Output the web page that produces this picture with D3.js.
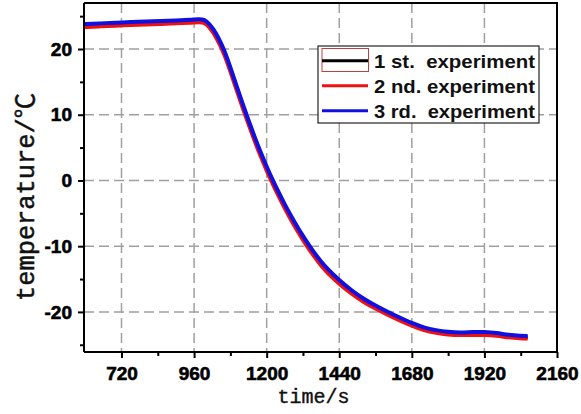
<!DOCTYPE html>
<html>
<head>
<meta charset="utf-8">
<script src="https://cdn.jsdelivr.net/npm/d3@7"></script>
<style>
  body { margin: 0; background: #fff; }
  svg { display: block; }
</style>
</head>
<body>
<div id="drawarea"></div>
<script>
// time points (s)
const times = [596, 650, 700, 750, 800, 850, 900, 950, 975, 995, 1010, 1025, 1040, 1060, 1080, 1100, 1120, 1140, 1160, 1180,
    1200, 1220, 1240, 1260, 1280, 1300, 1320, 1340, 1360, 1380, 1400, 1440, 1480, 1520, 1560, 1600, 1640, 1680, 1720, 1760,
    1800, 1840, 1880, 1920, 1960, 2000, 2040, 2063];

// temperature (degC) for each experiment
const exp1 = [23.6, 23.7, 23.8, 23.9, 24.0, 24.05, 24.15, 24.25, 24.35, 24.3, 23.65, 22.7, 21.5, 19.55, 16.9, 14.15, 11.45, 8.85, 6.35, 4.0,
    1.8, -0.25, -2.15, -3.95, -5.65, -7.25, -8.75, -10.15, -11.45, -12.65, -13.7, -15.45, -16.95, -18.25, -19.3, -20.25, -21.1, -21.9, -22.6, -23.0,
    -23.25, -23.35, -23.3, -23.3, -23.4, -23.7, -23.85, -23.85];
const exp2 = [23.35, 23.45, 23.55, 23.65, 23.75, 23.8, 23.9, 24.0, 24.1, 24.05, 23.35, 22.4, 21.15, 19.25, 16.6, 13.85, 11.15, 8.55, 6.05, 3.7,
    1.5, -0.55, -2.45, -4.25, -5.95, -7.55, -9.05, -10.45, -11.75, -12.95, -14.0, -15.75, -17.2, -18.5, -19.5, -20.45, -21.3, -22.1, -22.8, -23.2,
    -23.45, -23.55, -23.5, -23.5, -23.6, -23.9, -24.05, -24.05];
const exp3 = [23.8, 23.9, 24.0, 24.1, 24.2, 24.25, 24.35, 24.45, 24.55, 24.5, 23.85, 22.95, 21.75, 19.85, 17.2, 14.45, 11.75, 9.15, 6.65, 4.3,
    2.1, 0.05, -1.85, -3.65, -5.35, -6.95, -8.45, -9.85, -11.15, -12.35, -13.4, -15.2, -16.7, -18.0, -19.05, -20.0, -20.85, -21.7, -22.4, -22.8,
    -23.05, -23.15, -23.05, -23.05, -23.2, -23.5, -23.65, -23.65];

const seriesNames = ["1 st.  experiment", "2 nd. experiment", "3 rd.  experiment"];
const seriesColors = ["#000000", "#ee1111", "#1010e0"];

const xTicks = [720, 960, 1200, 1440, 1680, 1920, 2160];
const xMinor = [840, 1080, 1320, 1560, 1800, 2040];
const yTicks = [-20, -10, 0, 10, 20];
const yMinor = [-25, -15, -5, 5, 15, 25];

const width = 581, height = 414;
const pLeft = 84, pRight = 557, pTop = 3, pBottom = 352;

let svg = d3.select("div#drawarea").append("svg")
    .attr("width", width)
    .attr("height", height);

let x = d3.scaleLinear().domain([596, 2160]).range([pLeft, pRight]);
let y = d3.scaleLinear().domain([-26.1, 27]).range([pBottom, pTop]);

//dashed grid at the major ticks
svg.append("g").selectAll("line").data(xTicks.filter(d => d < 2160)).join("line")
    .attr("x1", d => x(d)).attr("x2", d => x(d))
    .attr("y1", pTop).attr("y2", pBottom)
    .attr("stroke", "#a0a0a0").attr("stroke-width", 1.5)
    .attr("stroke-dasharray", "10,5");
svg.append("g").selectAll("line").data(yTicks).join("line")
    .attr("x1", pLeft).attr("x2", pRight)
    .attr("y1", d => y(d)).attr("y2", d => y(d))
    .attr("stroke", "#a0a0a0").attr("stroke-width", 1.5)
    .attr("stroke-dasharray", "10,5");

//the three curves, blue on top
let line = d3.line().curve(d3.curveBasis);
[exp1, exp2, exp3].forEach((vals, k) => {
    svg.append("path")
        .attr("d", line(times.map((t, j) => [x(t), y(vals[j])])))
        .attr("fill", "none")
        .attr("stroke", seriesColors[k])
        .attr("stroke-width", 4)
        .attr("stroke-linejoin", "round");
});

//frame on top and right
svg.append("path")
    .attr("d", `M${pLeft},${pTop}H${pRight}V${pBottom}`)
    .attr("fill", "none").attr("stroke", "#000").attr("stroke-width", 2);

//bold tick labels like the original
function styleTicks(g) {
    g.attr("font-family", "'Liberation Sans', Arial, sans-serif")
        .attr("font-size", 19)
        .attr("font-weight", "bold");
    g.selectAll("line").attr("stroke-width", 2);
    g.selectAll("text")
        .attr("fill", "#000")
        .attr("stroke", "#000")
        .attr("stroke-width", 0.6);
}

//axes
let xAxis = svg.append("g")
    .attr("transform", `translate(0,${pBottom})`)
    .call(d3.axisBottom(x).tickValues(xTicks).tickSize(6).tickPadding(8.5).tickFormat(d => String(d)))
    .call(styleTicks);
svg.append("g")
    .attr("transform", `translate(0,${pBottom})`)
    .call(d3.axisBottom(x).tickValues(xMinor).tickSize(4).tickFormat(""))
    .call(g => g.select(".domain").remove())
    .call(styleTicks);
let yAxis = svg.append("g")
    .attr("transform", `translate(${pLeft},0)`)
    .call(d3.axisLeft(y).tickValues(yTicks).tickSize(6).tickPadding(6).tickFormat(d => String(d)))
    .call(styleTicks);
svg.append("g")
    .attr("transform", `translate(${pLeft},0)`)
    .call(d3.axisLeft(y).tickValues(yMinor).tickSize(4).tickFormat(""))
    .call(g => g.select(".domain").remove())
    .call(styleTicks);

xAxis.select(".domain").attr("d", `M${pLeft},0H${pRight}`).attr("stroke-width", 2);
yAxis.select(".domain").attr("d", `M0,${pTop}V${pBottom}`).attr("stroke-width", 2);

//axis titles
svg.append("text")
    .attr("x", 313.5).attr("y", 403)
    .attr("text-anchor", "middle")
    .attr("font-family", "'Liberation Mono', monospace")
    .attr("font-size", 20)
    .attr("fill", "#111")
    .attr("stroke", "#111").attr("stroke-width", 0.4)
    .text("time/s");
svg.append("text")
    .attr("transform", "translate(34,197) rotate(-90)")
    .attr("text-anchor", "middle")
    .attr("font-family", "'Liberation Mono', 'Noto Sans CJK SC', monospace")
    .attr("font-size", 25)
    .attr("textLength", 208)
    .attr("lengthAdjust", "spacingAndGlyphs")
    .attr("fill", "#111")
    .attr("stroke", "#111").attr("stroke-width", 0.5)
    .text("temperature/℃");

//legend
let legend = svg.append("g");
legend.append("rect")
    .attr("x", 318).attr("y", 46)
    .attr("width", 221).attr("height", 77)
    .attr("fill", "#fff").attr("stroke", "#222").attr("stroke-width", 1.2);
legend.append("rect")
    .attr("x", 322).attr("y", 48.5)
    .attr("width", 46.5).attr("height", 23)
    .attr("fill", "none").attr("stroke", "#c04040").attr("stroke-width", 1);
seriesNames.forEach((name, k) => {
    let ly = 60.7 + k * 25;
    legend.append("line")
        .attr("x1", 322).attr("x2", 368)
        .attr("y1", ly).attr("y2", ly)
        .attr("stroke", seriesColors[k]).attr("stroke-width", 3);
    legend.append("text")
        .attr("x", 374).attr("y", ly + 7)
        .attr("font-family", "'Liberation Sans', Arial, sans-serif")
        .attr("font-weight", "bold")
        .attr("font-size", 19)
        .attr("textLength", 161)
        .attr("lengthAdjust", "spacingAndGlyphs")
        .style("white-space", "pre")
        .attr("fill", "#111")
        .text(name);
});
</script>
</body>
</html>
